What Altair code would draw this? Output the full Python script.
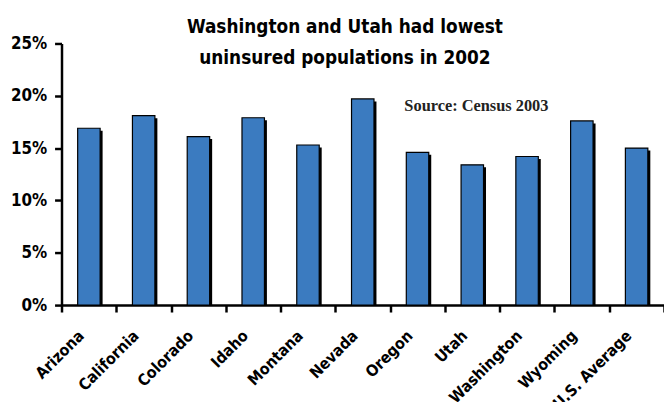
import altair as alt
import pandas as pd

states = ["Arizona", "California", "Colorado", "Idaho", "Montana", "Nevada",
          "Oregon", "Utah", "Washington", "Wyoming", "U.S. Average"]
uninsured = [16.9, 18.1, 16.1, 17.9, 15.3, 19.7, 14.6, 13.4, 14.2, 17.6, 15.0]
title_lines = ["Washington and Utah had lowest", "uninsured populations in 2002"]
source_note = "Source: Census 2003"
y_ticks = [0, 5, 10, 15, 20, 25]

df = pd.DataFrame({"state": states, "pct": uninsured})

BOLD = "DejaVu Sans Condensed, Liberation Sans Narrow, Liberation Sans, sans-serif"

x_enc = alt.X("state:N", sort=states, title=None,
              scale=alt.Scale(paddingInner=0, paddingOuter=0),
              axis=alt.Axis(labelAngle=-45, labelFont=BOLD, labelFontWeight="bold",
                            labelFontSize=16, labelColor="black", labelPadding=21,
                            labelOffset=-8,
                            tickBand="extent", tickSize=7, tickWidth=2.5, tickColor="black",
                            domainWidth=2.5, domainColor="black", labelAlign="right",
                            labelBaseline="middle"))
y_enc = alt.Y("pct:Q", title=None,
              scale=alt.Scale(domain=[0, 25]),
              axis=alt.Axis(values=y_ticks, labelExpr="datum.value + '%'",
                            labelFont=BOLD, labelFontWeight="bold", labelFontSize=17,
                            labelColor="black", labelPadding=8, tickSize=7,
                            tickWidth=2.5, tickColor="black", domainWidth=2.5,
                            domainColor="black", grid=False))

shadow = alt.Chart(df).mark_bar(color="black", width={"band": 0.41},
                                xOffset=2.5, yOffset=2.5, y2Offset=0).encode(
    x=x_enc, y=y_enc, y2=alt.datum(0))

bars = alt.Chart(df).mark_bar(color="#3b7bc0", stroke="black", strokeWidth=1.2,
                              width={"band": 0.41}).encode(x=x_enc, y=y_enc)

note = alt.Chart(pd.DataFrame({"t": [source_note]})).mark_text(
    font="Liberation Serif", fontWeight="bold", fontSize=16.5, align="left",
    baseline="alphabetic", color="#222").encode(
    text="t:N", x=alt.value(346), y=alt.value(68))

chart = alt.layer(shadow, bars, note).properties(
    width=608, height=264,
    padding={"left": 54, "top": 34, "right": 0, "bottom": 96},
    autosize=alt.AutoSizeParams(type="none"),
    title=alt.TitleParams(text=title_lines, font=BOLD, fontWeight="bold",
                          fontSize=19, lineHeight=32, color="black",
                          anchor="middle", dx=-18, offset=-34),
).configure_view(stroke=None)

chart.save("out.html", embed_options={"renderer": "svg", "actions": False})
